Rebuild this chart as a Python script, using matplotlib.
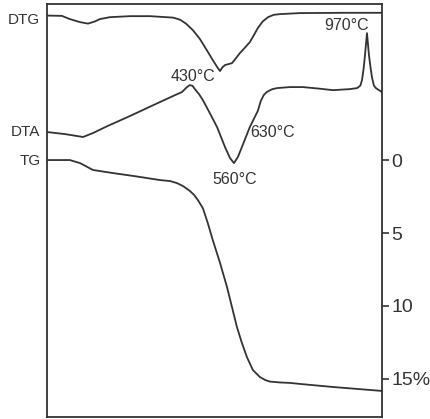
"""Thermal analysis chart: DTG, DTA and TG curves on one frame, TG scale on the right."""

import matplotlib
matplotlib.use("Agg")
import matplotlib.pyplot as plt

# Temperature (deg C) and signal values.
# All curves share the TG frame (mass loss %, downwards); DTG and DTA are offset traces.
dtg_temp = [0, 45, 69, 100, 124, 145, 160, 190, 251, 311, 381, 402, 420, 441,
            462, 483, 501, 515, 523, 530, 538, 559, 570, 583, 598, 613, 625,
            637, 652, 668, 685, 704, 764, 900, 1012]
dtg_signal = [-9.90, -9.88, -9.66, -9.45, -9.35, -9.50, -9.66, -9.79, -9.86,
              -9.86, -9.76, -9.62, -9.35, -8.90, -8.30, -7.53, -6.85, -6.35,
              -6.10, -6.35, -6.51, -6.64, -6.95, -7.33, -7.70, -8.08, -8.55,
              -9.04, -9.50, -9.79, -9.95, -10.00, -10.07, -10.09, -10.09]

dta_temp = [0, 54, 109, 139, 180, 251, 320, 387, 408, 423, 432, 440, 447, 460,
            471, 492, 514, 538, 553, 565, 577, 589, 613, 628, 637, 646, 655,
            664, 680, 695, 734, 773, 820, 864, 915, 937, 947, 952, 957, 961,
            967, 973, 978, 982, 988, 994, 1012]
dta_signal = [-1.92, -1.78, -1.58, -1.85, -2.30, -3.02, -3.75, -4.45, -4.66,
              -5.00, -5.14, -5.08, -4.86, -4.50, -4.11, -3.22, -2.26, -0.89,
              -0.14, 0.21, -0.21, -0.89, -2.26, -2.95, -3.36, -4.04, -4.45,
              -4.66, -4.85, -4.93, -5.00, -5.00, -4.90, -4.79, -4.86, -4.93,
              -5.10, -5.48, -6.30, -7.19, -8.70, -7.19, -6.30, -5.68, -5.10,
              -4.93, -4.66]

tg_temp = [0, 69, 100, 139, 199, 270, 341, 372, 393, 411, 432, 445, 456, 471,
           486, 501, 523, 544, 559, 574, 589, 604, 622, 643, 660, 674, 704,
           734, 764, 864, 1012]
tg_loss = [0.0, 0.0, 0.21, 0.68, 0.89, 1.12, 1.37, 1.44, 1.58, 1.78, 2.12,
           2.40, 2.74, 3.29, 4.32, 5.48, 7.05, 8.70, 10.07, 11.44, 12.53, 13.49,
           14.38, 14.86, 15.08, 15.18, 15.24, 15.27, 15.34, 15.55, 15.82]

tg_ticks = [0, 5, 10, 15]
tg_tick_labels = ["0", "5", "10", "15%"]

# Annotated peak temperatures: label positions given as (temperature, signal)
peak_labels = ["430°C", "560°C", "630°C", "970°C"]
peak_temp = [442, 566, 683, 906]
peak_signal = [-5.75, 1.35, -1.92, -9.25]

curve_names = ["DTG", "DTA", "TG"]
curve_start = [-9.60, -1.92, 0.05]

INK = "#333333"

plt.rcParams["font.family"] = ["Liberation Sans Narrow", "Liberation Sans", "DejaVu Sans"]

fig = plt.figure(figsize=(4.31, 4.19), dpi=100)
ax = fig.add_axes([0.109, 0.005, 0.777, 0.985])

ax.plot(dtg_temp, dtg_signal, color=INK, lw=1.3)
ax.plot(dta_temp, dta_signal, color=INK, lw=1.3)
ax.plot(tg_temp, tg_loss, color=INK, lw=1.3)

ax.set_xlim(0, 1012)
ax.set_ylim(17.6, -10.68)

for s in ax.spines.values():
    s.set_color(INK)
    s.set_linewidth(1.3)

ax.set_xticks([])
ax.yaxis.tick_right()
ax.set_yticks(tg_ticks)
ax.set_yticklabels(tg_tick_labels)
ax.tick_params(axis="y", direction="out", length=5, width=1.2, color=INK,
               labelcolor=INK, labelsize=14, pad=2)

for name, y in zip(curve_names, curve_start):
    ax.text(-0.02, y, name, transform=ax.get_yaxis_transform(), ha="right",
            va="center", fontsize=11, color=INK)

for lab, t, v in zip(peak_labels, peak_temp, peak_signal):
    ax.text(t, v, lab, ha="center", va="center", fontsize=11.5, color=INK)

fig.savefig("out.png", dpi=100)
